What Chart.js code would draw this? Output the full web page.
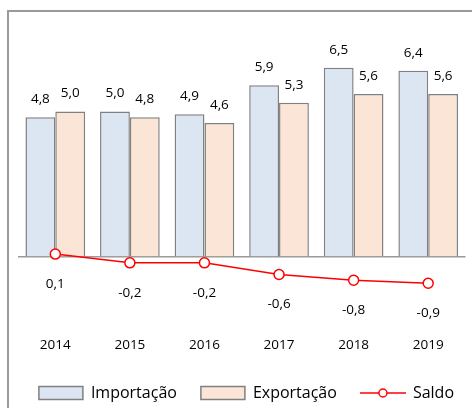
<!DOCTYPE html>
<html>
<head>
<meta charset="utf-8">
<script src="https://cdn.jsdelivr.net/npm/chart.js@4.4.1/dist/chart.umd.min.js"></script>
<style>
  html, body { margin: 0; padding: 0; background: #fff; }
  #wrap { width: 472px; height: 408px; }
</style>
</head>
<body>
<div id="wrap"><canvas id="chart" width="472" height="408"></canvas></div>
<script>
// values
const years = ['2014', '2015', '2016', '2017', '2018', '2019'];
const importacao = [4.8, 5.0, 4.9, 5.9, 6.5, 6.4];
const exportacao = [5.0, 4.8, 4.6, 5.3, 5.6, 5.6];
const saldo = [0.1, -0.2, -0.2, -0.6, -0.8, -0.9];

const FONT = "'Open Sans', sans-serif";
const fmt = v => v.toFixed(1).replace('.', ',');

// little icon for the Saldo legend entry: line with a hollow dot
const saldoIcon = document.createElement('canvas');
saldoIcon.width = 46;
saldoIcon.height = 12;
{
  const c = saldoIcon.getContext('2d');
  c.strokeStyle = '#ff0000';
  c.lineWidth = 1.5;
  c.beginPath(); c.moveTo(0, 6); c.lineTo(46, 6); c.stroke();
  c.beginPath(); c.arc(23, 6, 4, 0, Math.PI * 2);
  c.fillStyle = '#fff'; c.fill(); c.stroke();
}

// value labels above bars and below the line points
const valueLabels = {
  id: 'valueLabels',
  afterDatasetsDraw(chart) {
    const ctx = chart.ctx;
    ctx.save();
    ctx.font = '13.5px ' + FONT;
    ctx.fillStyle = '#000';
    ctx.textAlign = 'center';
    ctx.textBaseline = 'middle';
    chart.data.datasets.forEach((ds, i) => {
      const meta = chart.getDatasetMeta(i);
      meta.data.forEach((el, j) => {
        const y = ds.type === 'line' ? el.y + 30 : el.y - 18;
        ctx.fillText(fmt(ds.data[j]), el.x, y);
      });
    });
    ctx.restore();
  }
};

// frame of the original chart (only left and top edges are visible)
const frame = {
  id: 'frame',
  beforeDraw(chart) {
    const ctx = chart.ctx;
    ctx.save();
    ctx.strokeStyle = '#9a9a9a';
    ctx.lineWidth = 2;
    ctx.beginPath();
    ctx.moveTo(8, 408);
    ctx.lineTo(8, 11);
    ctx.lineTo(472, 11);
    ctx.stroke();
    ctx.restore();
  }
};

new Chart(document.getElementById('chart'), {
  data: {
    labels: years,
    datasets: [
      {
        type: 'line',
        label: 'Saldo',
        data: saldo,
        borderColor: '#ff0000',
        borderWidth: 1.5,
        pointRadius: 5,
        pointBackgroundColor: '#ffffff',
        pointBorderColor: '#ff0000',
        pointBorderWidth: 1.5,
        tension: 0,
        order: 0
      },
      {
        type: 'bar',
        label: 'Importação',
        data: importacao,
        backgroundColor: '#dce6f2',
        borderColor: '#808080',
        borderWidth: 1.5,
        borderSkipped: 'start',
        categoryPercentage: 0.8,
        barPercentage: 1.0,
        order: 1
      },
      {
        type: 'bar',
        label: 'Exportação',
        data: exportacao,
        backgroundColor: '#fbe5d6',
        borderColor: '#808080',
        borderWidth: 1.5,
        borderSkipped: 'start',
        categoryPercentage: 0.8,
        barPercentage: 1.0,
        order: 1
      }
    ]
  },
  options: {
    responsive: false,
    animation: false,
    // right padding is negative so the legend row can run to the edge;
    // the empty right axis pulls the plot area back in
    layout: { padding: { left: 0, right: -6, top: 41, bottom: -3 } },
    scales: {
      x: {
        grid: { display: false },
        border: { display: false },
        ticks: { color: '#000', font: { family: FONT, size: 13.5, lineHeight: 2.05 }, padding: 2 }
      },
      y: {
        min: -2.21,
        max: 7.42,
        afterFit(scale) { scale.width = 18; },
        grid: {
          drawTicks: false,
          lineWidth: 1.5,
          color: c => c.tick.value === 0 ? '#9a9a9a' : 'rgba(0,0,0,0)'
        },
        border: { display: false },
        ticks: { display: false, stepSize: 0.5 }
      },
      yRight: {
        position: 'right',
        afterFit(scale) { scale.width = 9; },
        grid: { display: false },
        border: { display: false },
        ticks: { display: false }
      }
    },
    plugins: {
      tooltip: { enabled: false },
      legend: {
        position: 'bottom',
        align: 'end',
        labels: {
          color: '#000',
          font: { family: FONT, size: 16 },
          usePointStyle: true,
          pointStyleWidth: 44,
          boxHeight: 13,
          padding: 24,
          generateLabels(chart) {
            const items = Chart.defaults.plugins.legend.labels.generateLabels(chart);
            const byName = {};
            items.forEach(it => { byName[it.text] = it; });
            const out = ['Importação', 'Exportação', 'Saldo'].map(n => byName[n]);
            out.forEach(it => {
              if (it.text === 'Saldo') {
                it.pointStyle = saldoIcon;
              } else {
                it.pointStyle = 'rect';
                it.lineWidth = 1.5;
                it.strokeStyle = '#808080';
              }
            });
            return out;
          }
        }
      }
    }
  },
  plugins: [frame, valueLabels]
});
</script>
</body>
</html>
